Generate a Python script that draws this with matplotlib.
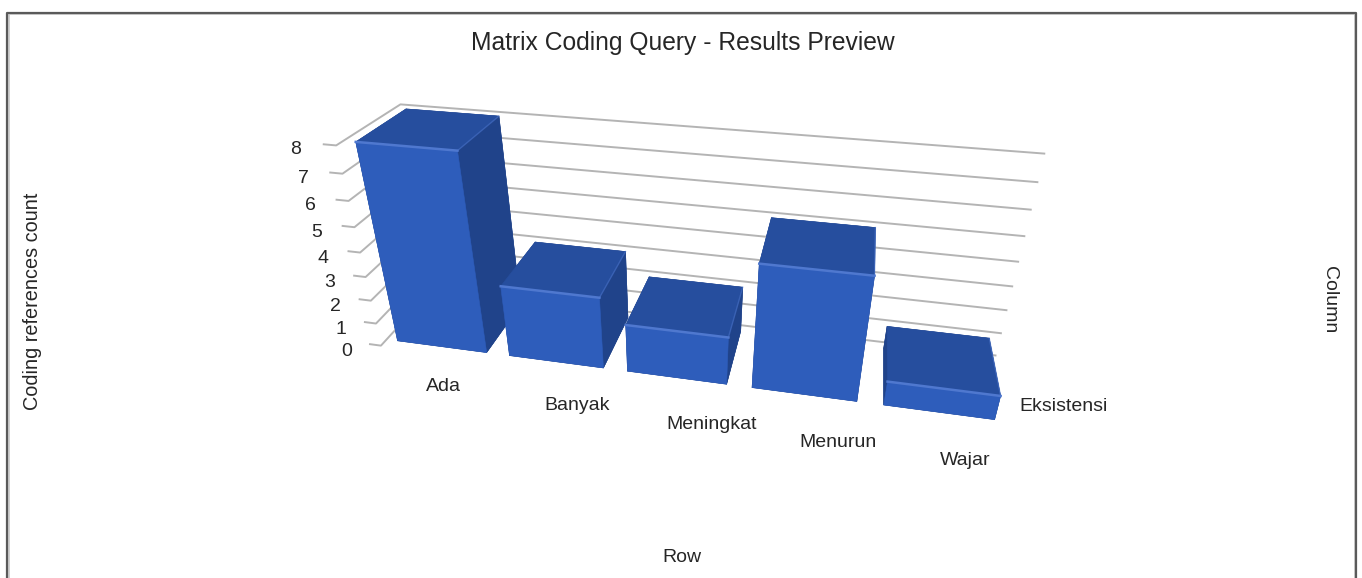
#!/usr/bin/env python3
"""Matrix coding query preview: five bars drawn on a skewed 3D axes."""

import matplotlib

matplotlib.use("Agg")
import matplotlib.pyplot as plt
import numpy as np
from matplotlib.lines import Line2D
from mpl_toolkits.mplot3d import proj3d

plt.rcParams["font.family"] = ["Liberation Sans", "DejaVu Sans"]

CATEGORIES = ["Ada", "Banyak", "Meningkat", "Menurun", "Wajar"]
COUNTS = [8, 3, 2, 5, 1]
SERIES = "Eksistensi"
Z_TICKS = [0, 1, 2, 3, 4, 5, 6, 7, 8]

W, H = 1362, 578
GAP = 0.1  # gap round each bar, in axis units
FRONT = "#2E5DBB"
TOP = "#264E9E"
SIDE = "#20438A"
EDGE = "#4F78CF"
GRID = "#B4B4B4"
TEXT = "#262626"

# the category labels do not sit evenly under the bars
LABEL_SHIFT = [0.21, 0.29, 0.32, 0.23, 0.10]

# picture positions of bar corners, used only to fit the camera:
# top FL, FR, BR, BL, then bottom FL, FR
CORNERS_PX = [
    [(356, 142), (457, 151), (498, 116), (407, 109), (397, 339), (486, 352)],
    [(501, 287), (599, 299), (624, 253), (536, 243), (509, 356), (603, 367)],
    [(627, 326), (728, 339), (743, 288), (651, 277), (627, 371), (727, 383)],
    [(759, 263), (874, 277), (875, 227), (772, 218), (752, 387), (857, 401)],
    [(888, 382), (1000, 396), (989, 338), (887, 327), (884, 405), (996, 419)],
]
# back wall: left top, right top, right bottom; left wall front corner top
WALL_PX = [(400, 103), (1044, 152), (995, 355), (337, 145)]


def fit_camera():
    """Fit a 3x4 projection from axis units to picture pixels."""
    world, pixels = [], []
    for i, (count, corners) in enumerate(zip(COUNTS, CORNERS_PX)):
        x0, x1 = i + GAP, i + 1 - GAP
        y0, y1 = GAP, 1 - GAP
        world += [(x0, y0, count), (x1, y0, count), (x1, y1, count),
                  (x0, y1, count), (x0, y0, 0), (x1, y0, 0)]
        pixels += corners
    world += [(0, 1, 8), (5, 1, 8), (5, 1, 0), (0, 0, 8)]
    pixels += WALL_PX

    rows = []
    for (x, y, z), (u, v) in zip(world, pixels):
        u, v = u / 1000, v / 1000
        rows.append([x, y, z, 1, 0, 0, 0, 0, -u * x, -u * y, -u * z, -u])
        rows.append([0, 0, 0, 0, x, y, z, 1, -v * x, -v * y, -v * z, -v])
    _, _, vt = np.linalg.svd(np.array(rows))
    p = vt[-1].reshape(3, 4)
    p /= p[2] @ np.array([2.5, 0.5, 4, 1])
    p[:2] *= 1000
    return p


def main():
    p = fit_camera()
    # third row only orders the faces: deep first, tops and right sides last
    depth = np.array([-0.02, 1.0, -0.03, 0.0])
    m = np.vstack([p[0], p[1], depth, p[2]])

    fig = plt.figure(figsize=(W / 100, H / 100), dpi=100, facecolor="white")
    ax = fig.add_axes([0, 0, 1, 1], projection="3d", computed_zorder=False)
    ax.set_axis_off()
    ax.set_proj_type("ortho")  # persp would mask lines outside -1..1
    ax.get_proj = lambda: m
    ax.apply_aspect = lambda position=None: None
    ax.viewLim.intervalx = (0, W)
    ax.viewLim.intervaly = (H, 0)

    def label(x, y, z, text):
        """Put a flat label where an axis position lands in the picture."""
        px, py, _ = proj3d.proj_transform(x, y, z, m)
        fig.text(px / W, 1 - py / H, text, ha="center", va="center",
                 fontsize=14, color=TEXT)

    for z in Z_TICKS:
        ax.plot([-0.1, 0, 0, 5], [0, 0, 1, 1], [z, z, z, z],
                color=GRID, lw=1.4, zorder=1)
        label(-0.23, -0.15, z, str(z))

    # -z, +z, -y, +y, -x, +x
    faces = [SIDE, TOP, FRONT, SIDE, SIDE, SIDE]
    bar_w = 1 - 2 * GAP
    for i, count in enumerate(COUNTS):
        x0, x1 = i + GAP, i + 1 - GAP
        ax.bar3d(x0, GAP, 0, bar_w, bar_w, count, color=faces,
                 edgecolor=faces, linewidth=0.4, shade=False, zorder=3 + i)
        ax.plot([x0, x1], [GAP, GAP], [count, count], color=EDGE, lw=1.8,
                zorder=3 + i)
        ax.plot([x1, x1], [GAP, 1 - GAP], [count, count], color=EDGE, lw=1,
                alpha=0.5, zorder=3 + i)
        label(i + 0.55 + LABEL_SHIFT[i], -0.43, 0, CATEGORIES[i])
    label(5.43, 0.39, 0, SERIES)
    ax.set_xticks([])
    ax.set_yticks([])
    ax.set_zticks([])

    fig.text(683 / W, 1 - 43 / H, "Matrix Coding Query - Results Preview",
             ha="center", va="center", fontsize=17.7, color=TEXT)
    fig.text(33 / W, 1 - 301 / H, "Coding references count", rotation=90,
             ha="center", va="center", fontsize=14.3, color=TEXT)
    fig.text(1329 / W, 1 - 300 / H, "Column", rotation=270,
             ha="center", va="center", fontsize=14, color=TEXT)
    fig.text(682 / W, 1 - 557.5 / H, "Row", ha="center", va="center",
             fontsize=14, color=TEXT)

    # screenshot frame: dark line with a soft inner edge
    for inset, color, lw in [(1.5, "#D0D0D0", 1.4), (0, "#5A5A5A", 1.6)]:
        top = 1 - (12.5 + inset) / H
        left, right = (7 + inset) / W, (1356 - inset) / W
        fig.add_artist(Line2D([left, left, right, right], [0, top, top, 0],
                              color=color, lw=lw))

    fig.savefig("out.png", dpi=100)
    plt.close(fig)


if __name__ == "__main__":
    main()
